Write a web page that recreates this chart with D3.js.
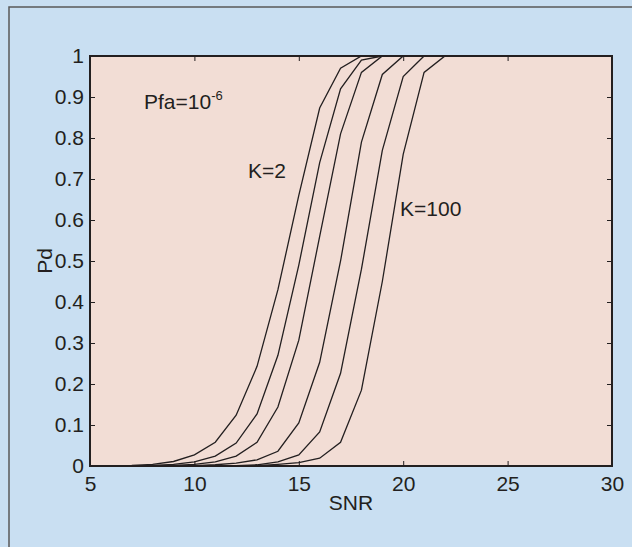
<!DOCTYPE html>
<html><head><meta charset="utf-8">
<script src="https://cdn.jsdelivr.net/npm/d3@7"></script>
<style>
html,body{margin:0;padding:0;background:#c9dff2;}
svg{display:block;}
text{font-family:"Liberation Sans",Arial,sans-serif;fill:#231f20;}
</style></head>
<body>
<svg id="chart" width="632" height="547"></svg>
<script>
// SNR grid (dB)
const snr = [5,6,7,8,9,10,11,12,13,14,15,16,17,18,19,20,21,22,23,24,25,26,27,28,29,30];
// Pd curves (left to right, K=2 ... K=100)
const pdK1 = [0,0.0005,0.0015,0.004,0.011,0.027,0.058,0.124,0.243,0.43,0.66,0.873,0.97,1,1,1,1,1,1,1,1,1,1,1,1,1];
const pdK2 = [0,0.0002,0.0006,0.0015,0.004,0.01,0.024,0.056,0.127,0.27,0.49,0.74,0.92,0.99,1,1,1,1,1,1,1,1,1,1,1,1];
const pdK3 = [0,0,0.0002,0.0006,0.0015,0.004,0.01,0.024,0.058,0.144,0.307,0.56,0.81,0.96,1,1,1,1,1,1,1,1,1,1,1,1];
const pdK4 = [0,0,0,0.0002,0.0005,0.001,0.003,0.007,0.015,0.036,0.105,0.253,0.5,0.79,0.955,1,1,1,1,1,1,1,1,1,1,1];
const pdK5 = [0,0,0,0,0.0002,0.0004,0.0008,0.001,0.003,0.01,0.027,0.083,0.226,0.48,0.77,0.95,1,1,1,1,1,1,1,1,1,1];
const pdK6 = [0,0,0,0,0,0.0002,0.0004,0.0007,0.001,0.004,0.008,0.019,0.058,0.185,0.45,0.76,0.96,1,1,1,1,1,1,1,1,1];
const curves = [pdK1,pdK2,pdK3,pdK4,pdK5,pdK6];
const xTicks = [5,10,15,20,25,30];
const yTicks = [0,0.1,0.2,0.3,0.4,0.5,0.6,0.7,0.8,0.9,1];
const xLabel = "SNR", yLabel = "Pd";

const svg = d3.select("#chart");
const L = 90, R = 612, T = 56, B = 466;
const x = d3.scaleLinear().domain([5,30]).range([L,R]);
const y = d3.scaleLinear().domain([0,1]).range([B,T]);

// outer figure border (top & left visible)
svg.append("path").attr("d","M9,547 L9,7 L632,7").attr("fill","none").attr("stroke","#5a5a5a").attr("stroke-width",1.5);

// plot background
svg.append("rect").attr("x",L).attr("y",T).attr("width",R-L).attr("height",B-T).attr("fill","#f2ddd5");

// curves
const line = d3.line().x((d,i)=>x(snr[i])).y(d=>y(d));
svg.selectAll("path.curve").data(curves).enter().append("path")
  .attr("class","curve").attr("d",line).attr("fill","none")
  .attr("stroke","#231f20").attr("stroke-width",1.3).attr("stroke-linejoin","miter");

// axes with inward ticks
const fs = "21px";
const gx = svg.append("g").attr("transform",`translate(0,${B})`)
  .call(d3.axisBottom(x).tickValues(xTicks).tickSizeInner(-5).tickSizeOuter(0).tickPadding(10));
const gxt = svg.append("g").attr("transform",`translate(0,${T})`)
  .call(d3.axisTop(x).tickValues(xTicks).tickSizeInner(-5).tickSizeOuter(0).tickFormat(""));
const gy = svg.append("g").attr("transform",`translate(${L},0)`)
  .call(d3.axisLeft(y).tickValues(yTicks).tickSizeInner(-5).tickSizeOuter(0).tickPadding(6).tickFormat(d3.format("~g")));
const gyr = svg.append("g").attr("transform",`translate(${R},0)`)
  .call(d3.axisRight(y).tickValues(yTicks).tickSizeInner(-5).tickSizeOuter(0).tickFormat(""));
[gx,gxt,gy,gyr].forEach(g=>{
  g.select(".domain").remove();
  g.selectAll(".tick line").attr("stroke","#231f20").attr("stroke-width",1);
  g.selectAll("text").attr("font-size",fs).attr("fill","#231f20").attr("font-family","Liberation Sans, Arial, sans-serif");
});
gx.selectAll(".tick text").attr("dy","0.71em");

// frame
svg.append("rect").attr("x",L).attr("y",T).attr("width",R-L).attr("height",B-T)
  .attr("fill","none").attr("stroke","#231f20").attr("stroke-width",2);

// axis labels
svg.append("text").attr("x",(L+R)/2).attr("y",510).attr("text-anchor","middle").attr("font-size",fs).text(xLabel);
svg.append("text").attr("transform",`translate(52,${(T+B)/2}) rotate(-90)`).attr("text-anchor","middle").attr("font-size",fs).text(yLabel);

// annotations
const pfa = svg.append("text").attr("x",144).attr("y",109).attr("font-size",fs);
pfa.append("tspan").text("Pfa=10");
pfa.append("tspan").attr("dy",-9).attr("font-size","13px").text("-6");
svg.append("text").attr("x",248).attr("y",178).attr("font-size",fs).text("K=2");
svg.append("text").attr("x",400).attr("y",216).attr("font-size",fs).text("K=100");
</script>
</body></html>
